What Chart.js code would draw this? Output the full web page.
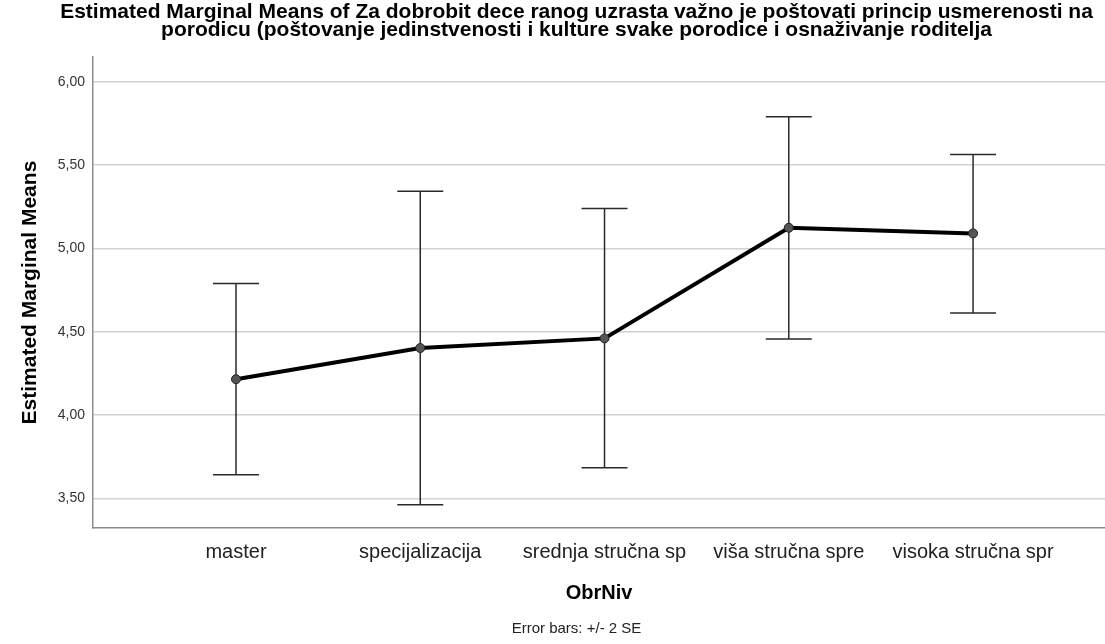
<!DOCTYPE html>
<html>
<head>
<meta charset="utf-8">
<script src="https://cdn.jsdelivr.net/npm/chart.js@4.4.1/dist/chart.umd.min.js"></script>
<style>
  html, body { margin: 0; padding: 0; background: #fff; }
  #wrap { width: 1105px; height: 644px; }
</style>
</head>
<body>
<div id="wrap"><canvas id="chartOne"></canvas></div>
<script>
// categories of ObrNiv
const categories = ['master', 'specijalizacija', 'srednja stručna sp', 'viša stručna spre', 'visoka stručna spr'];
// estimated marginal means and the +/- 2 SE bounds
const means = [4.215, 4.402, 4.460, 5.124, 5.090];
const upper = [4.790, 5.343, 5.240, 5.790, 5.564];
const lower = [3.641, 3.461, 3.683, 4.457, 4.613];
const yTicks = [3.5, 4.0, 4.5, 5.0, 5.5, 6.0];

const titleLines = [
    'Estimated Marginal Means of Za dobrobit dece ranog uzrasta važno je poštovati princip usmerenosti na',
    'porodicu (poštovanje jedinstvenosti i kulture svake porodice i osnaživanje roditelja'
];

const FONT = "'Liberation Sans', Arial, sans-serif";

// draws the error bars below the line
const errorBars = {
    id: 'errorBars',
    beforeDatasetsDraw(chart) {
        const ctx = chart.ctx;
        const xs = chart.scales.x;
        const ys = chart.scales.y;
        ctx.save();
        ctx.strokeStyle = '#2a2a2a';
        ctx.lineWidth = 1.5;
        for (let i = 0; i < means.length; i++) {
            const x = xs.getPixelForValue(i);
            const yt = ys.getPixelForValue(upper[i]);
            const yb = ys.getPixelForValue(lower[i]);
            ctx.beginPath();
            ctx.moveTo(x, yt); ctx.lineTo(x, yb);
            ctx.moveTo(x - 23, yt); ctx.lineTo(x + 23, yt);
            ctx.moveTo(x - 23, yb); ctx.lineTo(x + 23, yb);
            ctx.stroke();
        }
        ctx.restore();
    }
};

const ctxOne = document.getElementById('chartOne').getContext('2d');

const chartOne = new Chart(ctxOne, {
    type: 'line',
    data: {
        datasets: [{
            data: means.map((m, i) => ({ x: i, y: m })),
            borderColor: '#000000',
            borderWidth: 4,
            pointRadius: 4.5,
            pointBackgroundColor: '#555555',
            pointBorderColor: '#222222',
            pointBorderWidth: 1,
            tension: 0
        }]
    },
    options: {
        responsive: true,
        maintainAspectRatio: false,
        animation: false,
        // title is centred a bit right of the canvas middle, like the original
        layout: { autoPadding: false, padding: { left: 48, right: 0, top: 0, bottom: 0 } },
        plugins: {
            legend: { display: false },
            tooltip: { enabled: false },
            title: {
                display: true,
                text: titleLines,
                color: '#000000',
                font: { family: FONT, size: 21, weight: 'bold', lineHeight: 0.86 },
                padding: { top: 3, bottom: 18 }
            },
            subtitle: {
                display: true,
                position: 'bottom',
                text: 'Error bars: +/- 2 SE',
                color: '#222222',
                font: { family: FONT, size: 15, lineHeight: 1.2 },
                padding: { top: 5, bottom: 6 }
            }
        },
        scales: {
            x: {
                type: 'linear',
                min: -0.776,
                max: 4.716,
                afterBuildTicks: s => { s.ticks = categories.map((c, i) => ({ value: i })); },
                afterFit: s => { s.height = 87; s.paddingLeft = 0; s.paddingRight = 0; },
                ticks: {
                    callback: v => categories[v],
                    color: '#222222',
                    font: { family: FONT, size: 20 },
                    padding: 12,
                    maxRotation: 0,
                    autoSkip: false
                },
                grid: { display: false, drawTicks: false },
                border: { display: true, color: '#8c8c8c', width: 1.5 },
                title: {
                    display: true,
                    text: 'ObrNiv',
                    color: '#000000',
                    font: { family: FONT, size: 20, weight: 'bold', lineHeight: 1.2 },
                    padding: { top: 0, bottom: 10 }
                }
            },
            y: {
                min: 3.322,
                max: 6.148,
                afterBuildTicks: s => { s.ticks = yTicks.map(v => ({ value: v })); },
                afterFit: s => { s.width = 45; s.paddingTop = 0; s.paddingBottom = 0; },
                ticks: {
                    callback: v => v.toFixed(2).replace('.', ','),
                    color: '#333333',
                    font: { family: FONT, size: 14 },
                    padding: 8
                },
                grid: { color: '#d2d2d2', lineWidth: 1.5, drawTicks: false },
                border: { display: true, color: '#8c8c8c', width: 1.5 },
                title: {
                    display: true,
                    text: 'Estimated Marginal Means',
                    color: '#000000',
                    font: { family: FONT, size: 21, weight: 'bold', lineHeight: 1.2 },
                    padding: { top: -30.6, bottom: 0 }
                }
            }
        }
    },
    plugins: [errorBars]
});
</script>
</body>
</html>
